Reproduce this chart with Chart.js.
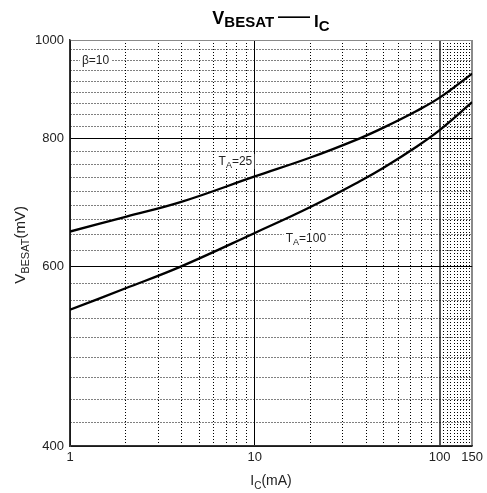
<!DOCTYPE html>
<html>
<head>
<meta charset="utf-8">
<script src="https://cdn.jsdelivr.net/npm/chart.js@4.4.0/dist/chart.umd.min.js"></script>
<style>
  html, body { margin: 0; padding: 0; background: #fff; }
  #wrap { width: 487px; height: 493px; position: relative; }
</style>
</head>
<body>
<div id="wrap"><canvas id="chart"></canvas></div>
<script>
// collector current, mA
var currentMA = [1, 2, 4, 10, 20, 37, 50, 75, 100, 150];
// base-emitter saturation voltage, mV, beta = 10
var vbesat25 = [649, 671, 694, 735, 767, 801, 821, 852, 878, 927];
var vbesat100 = [544, 571, 600, 647, 686, 727, 750, 786, 816, 869];

var xTickLabels = [1, 10, 100, 150];
var yTickLabels = [400, 600, 800, 1000];
var xMajor = [1, 10, 100];
var yMajor = [400, 600, 800, 1000];
var xGrid = [1, 2, 3, 4, 5, 6, 7, 8, 9, 10, 20, 30, 40, 50, 60, 70, 80, 90,
             100, 105, 110, 115, 120, 125, 130, 135, 140, 145, 150];

// the sheet splits every 200 mV step into 9 equal parts
var yGrid = [];
for (var i = 0; i < yMajor.length - 1; i++) {
  for (var k = 0; k < 9; k++) {
    yGrid.push(yMajor[i] + k * (yMajor[i + 1] - yMajor[i]) / 9);
  }
}
yGrid.push(yMajor[yMajor.length - 1]);

// curve labels, in data coordinates (left edge, vertical middle)
var notes = [
  { x: 1.16, y: 956, parts: [['\u03b2=10', 0]] },
  { x: 6.37, y: 761, parts: [['T', 0], ['A', 1], ['=25', 0]] },
  { x: 14.7, y: 640, parts: [['T', 0], ['A', 1], ['=100', 0]] }
];

var FONT = '"Liberation Sans", Arial, Helvetica, sans-serif';

function toPoints(xs, ys) {
  var pts = [];
  for (var i = 0; i < xs.length; i++) pts.push({ x: xs[i], y: ys[i] });
  return pts;
}

function isMajor(list, v) {
  for (var i = 0; i < list.length; i++) {
    if (Math.abs(list[i] - v) < 1e-6) return true;
  }
  return false;
}

/** draws a run of text pieces: [text, font, dy, gapBefore] centred on x */
function drawRun(c, parts, x, y) {
  var w = 0;
  parts.forEach(function(p) {
    c.font = p[1];
    w += (p[3] || 0) + c.measureText(p[0]).width;
  });
  var cx = x - w / 2;
  parts.forEach(function(p) {
    c.font = p[1];
    cx += (p[3] || 0);
    c.fillText(p[0], cx, y + p[2]);
    cx += c.measureText(p[0]).width;
  });
}

var textPlugin = {
  id: 'sheetText',
  afterDraw: function(chart) {
    var c = chart.ctx;
    var xs = chart.scales.x, ys = chart.scales.y;
    c.save();
    c.fillStyle = '#000';
    c.textAlign = 'left';
    c.textBaseline = 'alphabetic';

    // title
    drawRun(c, [
      ['V', 'bold 18px ' + FONT, 0, 0],
      ['BESAT', 'bold 15px ' + FONT, 3, 0],
      ['\u2014\u2014', 'bold 16px ' + FONT, -2, 4],
      ['I', 'bold 17px ' + FONT, 3, 4],
      ['C', 'bold 15px ' + FONT, 7, 0]
    ], 271, 24);

    // x axis title
    c.fillStyle = '#222';
    drawRun(c, [
      ['I', '14px ' + FONT, 0, 0],
      ['C', '10px ' + FONT, 4, 0],
      ['(mA)', '14px ' + FONT, 0, 0]
    ], 271, 485);

    // y axis title
    c.save();
    c.translate(25, 245);
    c.rotate(-Math.PI / 2);
    drawRun(c, [
      ['V', '15px ' + FONT, 0, 0],
      ['BESAT', '11px ' + FONT, 4, 0],
      ['(mV)', '15px ' + FONT, 0, 0]
    ], 0, 0);
    c.restore();

    // curve labels with white boxes over the grid
    notes.forEach(function(n) {
      var px = xs.getPixelForValue(n.x);
      var py = ys.getPixelForValue(n.y);
      var w = 0;
      n.parts.forEach(function(p) {
        c.font = (p[1] ? '9px ' : '12px ') + FONT;
        w += c.measureText(p[0]).width;
      });
      c.fillStyle = '#fff';
      c.fillRect(px - 2, py - 7, w + 4, 15);
      c.fillStyle = '#222';
      var cx = px;
      n.parts.forEach(function(p) {
        c.font = (p[1] ? '9px ' : '12px ') + FONT;
        c.fillText(p[0], cx, py + 4 + (p[1] ? 3 : 0));
        cx += c.measureText(p[0]).width;
      });
    });
    c.restore();
  }
};

function dotted(list, extra) {
  return function(c) {
    if (!c.tick) return [];
    var v = c.tick.value;
    return isMajor(list, v) || v === extra ? [] : [1, 2];
  };
}

new Chart(document.getElementById('chart'), {
  type: 'line',
  data: {
    datasets: [
      {
        label: 'TA=25',
        data: toPoints(currentMA, vbesat25),
        borderColor: '#000',
        borderWidth: 2.3,
        pointRadius: 0,
        fill: false,
        tension: 0.4
      },
      {
        label: 'TA=100',
        data: toPoints(currentMA, vbesat100),
        borderColor: '#000',
        borderWidth: 2.3,
        pointRadius: 0,
        fill: false,
        tension: 0.4
      }
    ]
  },
  options: {
    responsive: true,
    maintainAspectRatio: false,
    animation: false,
    layout: { padding: { top: 40, right: 11, left: 0, bottom: 0 } },
    plugins: {
      legend: { display: false },
      tooltip: { enabled: false },
      title: { display: false }
    },
    scales: {
      x: {
        type: 'logarithmic',
        min: 1,
        max: 150,
        afterBuildTicks: function(s) {
          s.ticks = xGrid.map(function(v) { return { value: v, major: isMajor(xMajor, v) }; });
        },
        afterFit: function(s) { s.height = 47; },
        ticks: {
          autoSkip: false,
          maxRotation: 0,
          minRotation: 0,
          padding: 4,
          color: '#222',
          font: { family: FONT, size: 13 },
          callback: function(v) {
            return isMajor(xTickLabels, v) ? String(v) : '';
          }
        },
        grid: {
          drawTicks: false,
          color: function(c) {
            var v = c.tick ? c.tick.value : 0;
            if (v === 150) return '#8a8a8a';
            if (v === 100) return '#555';
            return '#000';
          },
          lineWidth: function(c) {
            var v = c.tick ? c.tick.value : 0;
            if (v === 150 || v === 100) return 2;
            return 1;
          }
        },
        border: {
          display: true,
          color: '#333',
          width: 1.5,
          dash: dotted(xMajor, 150)
        }
      },
      y: {
        type: 'logarithmic',
        min: 400,
        max: 1000,
        afterBuildTicks: function(s) {
          s.ticks = yGrid.map(function(v) { return { value: v, major: isMajor(yMajor, v) }; });
        },
        afterFit: function(s) { s.width = 70; },
        ticks: {
          autoSkip: false,
          padding: 6,
          color: '#222',
          font: { family: FONT, size: 13 },
          callback: function(v) {
            return isMajor(yTickLabels, v) ? String(Math.round(v)) : '';
          }
        },
        grid: {
          drawTicks: false,
          color: function(c) {
            var v = c.tick ? c.tick.value : 0;
            if (v === 1000) return '#8a8a8a';
            return '#000';
          },
          lineWidth: 1
        },
        border: {
          display: true,
          color: '#333',
          width: 1.5,
          dash: dotted(yMajor, 1000)
        }
      }
    }
  },
  plugins: [textPlugin]
});
</script>
</body>
</html>
